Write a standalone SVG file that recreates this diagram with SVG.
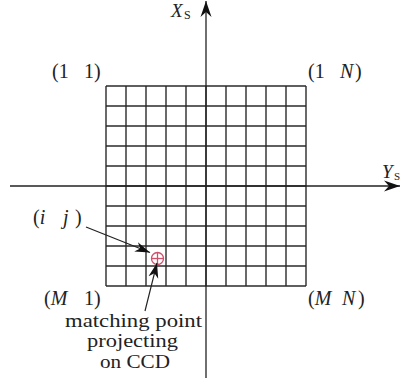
<svg xmlns="http://www.w3.org/2000/svg" width="401" height="378" viewBox="0 0 401 378">
<style>
text{font-family:"Liberation Serif","Times New Roman",serif;fill:#222;}
.lbl{font-size:20px;}
.it{font-style:italic;}
.cap{font-size:18px;}
.grid line{stroke:#2a2a2a;stroke-width:1.4;}
.axis{stroke:#222;stroke-width:1.3;fill:none;}
.ptr{stroke:#222;stroke-width:1.2;fill:none;}
.tgt{fill:none;stroke:#d0506a;stroke-width:1.3;}
</style>
<defs>
<marker id="ah" viewBox="-16 -6 17 12" refX="0" refY="0" markerWidth="17" markerHeight="12" markerUnits="userSpaceOnUse" orient="auto">
<path d="M0,0 L-16,-5.5 L-11,0 L-16,5.5 Z" fill="#111"/>
</marker>
<marker id="ap" viewBox="-15 -6 16 12" refX="0" refY="0" markerWidth="16" markerHeight="12" markerUnits="userSpaceOnUse" orient="auto">
<path d="M0,0 L-15,-5 L-10.5,0 L-15,5 Z" fill="#111"/>
</marker>
</defs>
<g id="grid" class="grid">
<line x1="106" y1="86" x2="306" y2="86"/>
<line x1="106" y1="106" x2="306" y2="106"/>
<line x1="106" y1="126" x2="306" y2="126"/>
<line x1="106" y1="146" x2="306" y2="146"/>
<line x1="106" y1="166" x2="306" y2="166"/>
<line x1="106" y1="186" x2="306" y2="186"/>
<line x1="106" y1="206" x2="306" y2="206"/>
<line x1="106" y1="226" x2="306" y2="226"/>
<line x1="106" y1="246" x2="306" y2="246"/>
<line x1="106" y1="266" x2="306" y2="266"/>
<line x1="106" y1="286" x2="306" y2="286"/>
<line x1="106" y1="86" x2="106" y2="286"/>
<line x1="126" y1="86" x2="126" y2="286"/>
<line x1="146" y1="86" x2="146" y2="286"/>
<line x1="166" y1="86" x2="166" y2="286"/>
<line x1="186" y1="86" x2="186" y2="286"/>
<line x1="206" y1="86" x2="206" y2="286"/>
<line x1="226" y1="86" x2="226" y2="286"/>
<line x1="246" y1="86" x2="246" y2="286"/>
<line x1="266" y1="86" x2="266" y2="286"/>
<line x1="286" y1="86" x2="286" y2="286"/>
<line x1="306" y1="86" x2="306" y2="286"/>
</g>
<g id="axes">
<line class="axis" x1="206" y1="378" x2="206" y2="1" marker-end="url(#ah)"/>
<line class="axis" x1="10" y1="186" x2="400" y2="186" marker-end="url(#ah)"/>
</g>
<g id="point">
<circle class="tgt" cx="157.5" cy="258.5" r="6"/>
<line class="tgt" x1="151.5" y1="258.5" x2="163.5" y2="258.5"/>
<line class="tgt" x1="157.5" y1="252.5" x2="157.5" y2="264.5"/>
</g>
<g id="connectors">
<line class="ptr" x1="86" y1="227" x2="150" y2="252.5" marker-end="url(#ap)"/>
<line class="ptr" x1="145" y1="311" x2="157" y2="263" marker-end="url(#ap)"/>
</g>
<g id="labels">
<text x="171" y="17" font-size="19" class="it">X</text><text x="184" y="19" font-size="12">S</text>
<text x="382" y="178" font-size="19" class="it">Y</text><text x="394" y="180" font-size="11">S</text>
<text class="lbl" x="52" y="78">(1</text><text class="lbl" x="84" y="78">1)</text>
<text class="lbl" x="308" y="78">(1</text><text class="lbl it" x="340" y="78">N</text><text class="lbl" x="355" y="78">)</text>
<text class="lbl" x="33" y="224">(<tspan class="it">i</tspan></text><text class="lbl it" x="63" y="224">j</text><text class="lbl" x="75" y="224">)</text>
<text class="lbl" x="44" y="305">(<tspan class="it">M</tspan></text><text class="lbl" x="84" y="305">1)</text>
<text class="lbl" x="308" y="305">(<tspan class="it">M</tspan></text><text class="lbl it" x="342" y="305">N</text><text class="lbl" x="358" y="305">)</text>
</g>
<g id="caption" class="cap">
<text x="65" y="327" textLength="137" lengthAdjust="spacingAndGlyphs">matching point</text>
<text x="87" y="347" textLength="91" lengthAdjust="spacingAndGlyphs">projecting</text>
<text x="100" y="368" textLength="70" lengthAdjust="spacingAndGlyphs">on CCD</text>
</g>
</svg>
